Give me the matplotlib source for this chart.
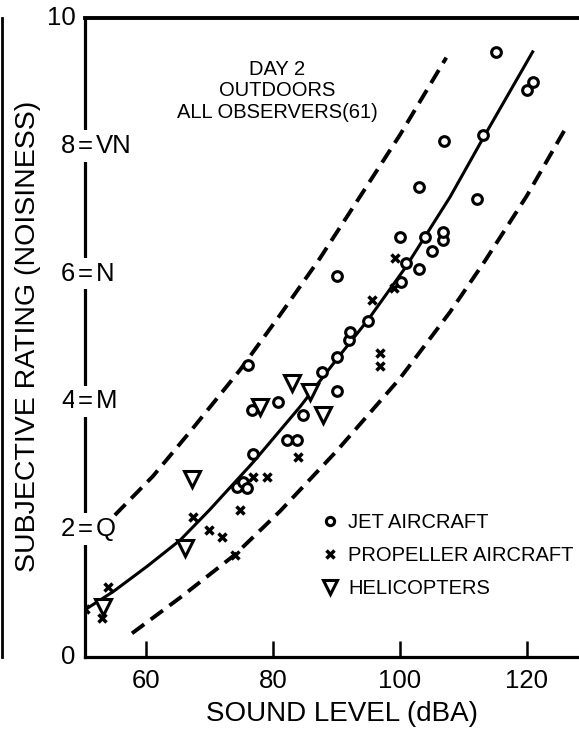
import matplotlib
matplotlib.use("Agg")
import matplotlib.pyplot as plt
from matplotlib.lines import Line2D

plt.rcParams["font.family"] = ["Liberation Sans", "DejaVu Sans"]

# observed points: sound level (dBA) vs mean noisiness rating
jet_db = [74.3, 75.3, 75.9, 76.9, 76.7, 76.1, 80.8, 82.2, 83.8, 84.7, 87.7, 90.1,
          90.1, 90.1, 92.0, 92.1, 95.0, 100.2, 100.9, 100.0, 103.0, 103.9, 105.0,
          106.8, 106.8, 103.0, 106.9, 112.1, 113.1, 115.1, 120.0, 120.9]
jet_rating = [2.66, 2.74, 2.64, 3.18, 3.87, 4.57, 3.99, 3.40, 3.40, 3.79, 4.46, 4.16,
              4.69, 5.96, 4.96, 5.09, 5.26, 5.87, 6.17, 6.57, 6.07, 6.57, 6.35,
              6.53, 6.65, 7.36, 8.07, 7.17, 8.17, 9.47, 8.87, 9.00]

prop_db = [50.4, 53.1, 54.0, 67.4, 69.9, 72.0, 74.0, 74.8, 76.9, 79.1, 83.9,
           96.9, 96.9, 95.6, 99.1, 99.2]
prop_rating = [0.75, 0.61, 1.10, 2.19, 1.99, 1.88, 1.60, 2.30, 2.82, 2.82, 3.13,
               4.75, 4.55, 5.59, 5.77, 6.24]

heli_db = [53.2, 66.1, 67.2, 78.0, 83.0, 85.8, 87.9]
heli_rating = [0.78, 1.71, 2.78, 3.91, 4.29, 4.15, 3.79]

# fitted curve and the two bounding curves
fit_db = [50.4, 54.8, 60.2, 65.4, 70.0, 76.9, 84.3, 90.2, 95.0, 100.9, 107.9, 113.1, 120.9]
fit_rating = [0.74, 1.02, 1.42, 1.83, 2.30, 3.05, 3.92, 4.68, 5.28, 6.10, 7.20, 8.12, 9.47]

upper_db = [55.1, 61.1, 66.9, 74.8, 81.1, 87.4, 94.2, 100.0, 107.3]
upper_rating = [2.22, 2.83, 3.52, 4.49, 5.35, 6.24, 7.28, 8.17, 9.38]

lower_db = [57.8, 65.4, 74.0, 81.1, 90.0, 100.0, 107.9, 113.4, 120.0, 126.3]
lower_rating = [0.37, 0.93, 1.60, 2.28, 3.22, 4.36, 5.40, 6.20, 7.22, 8.31]

x_ticks = [60, 80, 100, 120]
y_levels = [0, 2, 4, 6, 8, 10]
y_words = ["", "Q", "M", "N", "VN", ""]

fig = plt.figure(figsize=(5.79, 7.39), dpi=100)
ax = fig.add_axes([85 / 579, 1 - 657 / 739, 1 - 85 / 579, 639 / 739])

ax.plot(fit_db, fit_rating, color="black", lw=2.2, zorder=2)
ax.plot(upper_db, upper_rating, color="black", lw=2.8, dashes=(3.9, 2.1), zorder=2)
ax.plot(lower_db, lower_rating, color="black", lw=2.8, dashes=(3.9, 2.1), zorder=2)

ax.plot(jet_db, jet_rating, ls="none", marker="o", ms=7.0, mfc="white", mec="black",
        mew=2.2, zorder=4, label="JET AIRCRAFT")
ax.plot(prop_db, prop_rating, ls="none", marker="x", ms=6.2, mec="black", mew=2.5,
        zorder=4, label="PROPELLER AIRCRAFT")
ax.plot(heli_db, heli_rating, ls="none", marker="v", ms=12, mfc="white", mec="black",
        mew=2.2, zorder=3, label="HELICOPTERS")

ax.set_xlim(50.4, 128.2)
ax.set_ylim(0, 10)

for side in ["left", "bottom"]:
    ax.spines[side].set_linewidth(2.3)
ax.spines["top"].set_linewidth(2.8)
ax.spines["right"].set_visible(False)

ax.set_xticks(x_ticks)
ax.set_xticklabels([str(t) for t in x_ticks])
ax.tick_params(axis="x", direction="in", length=11.5, width=1.8, pad=9, labelsize=18.5)
ax.set_yticks([])

# rating labels sitting across the left axis
for lvl, word in zip(y_levels, y_words):
    ax.annotate(str(lvl), xy=(0, lvl), xycoords=("axes fraction", "data"),
                xytext=(-7, 0), textcoords="offset points",
                ha="right", va="center", fontsize=18.5)
    if word:
        ax.annotate("=", xy=(0, lvl), xycoords=("axes fraction", "data"),
                    xytext=(0, 0), textcoords="offset points",
                    ha="center", va="center", fontsize=18.5, zorder=5,
                    annotation_clip=False,
                    bbox=dict(boxstyle="square,pad=0.15", fc="white", ec="none"))
        ax.annotate(word, xy=(0, lvl), xycoords=("axes fraction", "data"),
                    xytext=(8, 0), textcoords="offset points",
                    ha="left", va="center", fontsize=18.5)

ax.text(-0.115, 0.502, "SUBJECTIVE RATING (NOISINESS)", transform=ax.transAxes,
        rotation=90, ha="center", va="center", fontsize=20.5)
ax.text(0.52, -0.089, "SOUND LEVEL (dBA)", transform=ax.transAxes,
        ha="center", va="center", fontsize=20)

ax.text(0.389, 0.886, "DAY 2\nOUTDOORS\nALL OBSERVERS(61)", transform=ax.transAxes,
        ha="center", va="center", fontsize=14.5, linespacing=1.15)

ax.legend(loc="upper left", bbox_to_anchor=(320 / 579, 1 - 513 / 739),
          bbox_transform=fig.transFigure, frameon=False, fontsize=14.5,
          handlelength=1.0, handletextpad=0.4, labelspacing=0.7,
          borderpad=0, borderaxespad=0, markerscale=0.85)

# page border on the far left
fig.add_artist(Line2D([2 / 579, 2 / 579], [1 - 18 / 739, 1 - 657 / 739],
                      transform=fig.transFigure, color="black", lw=2))

fig.savefig("out.png", dpi=100)
